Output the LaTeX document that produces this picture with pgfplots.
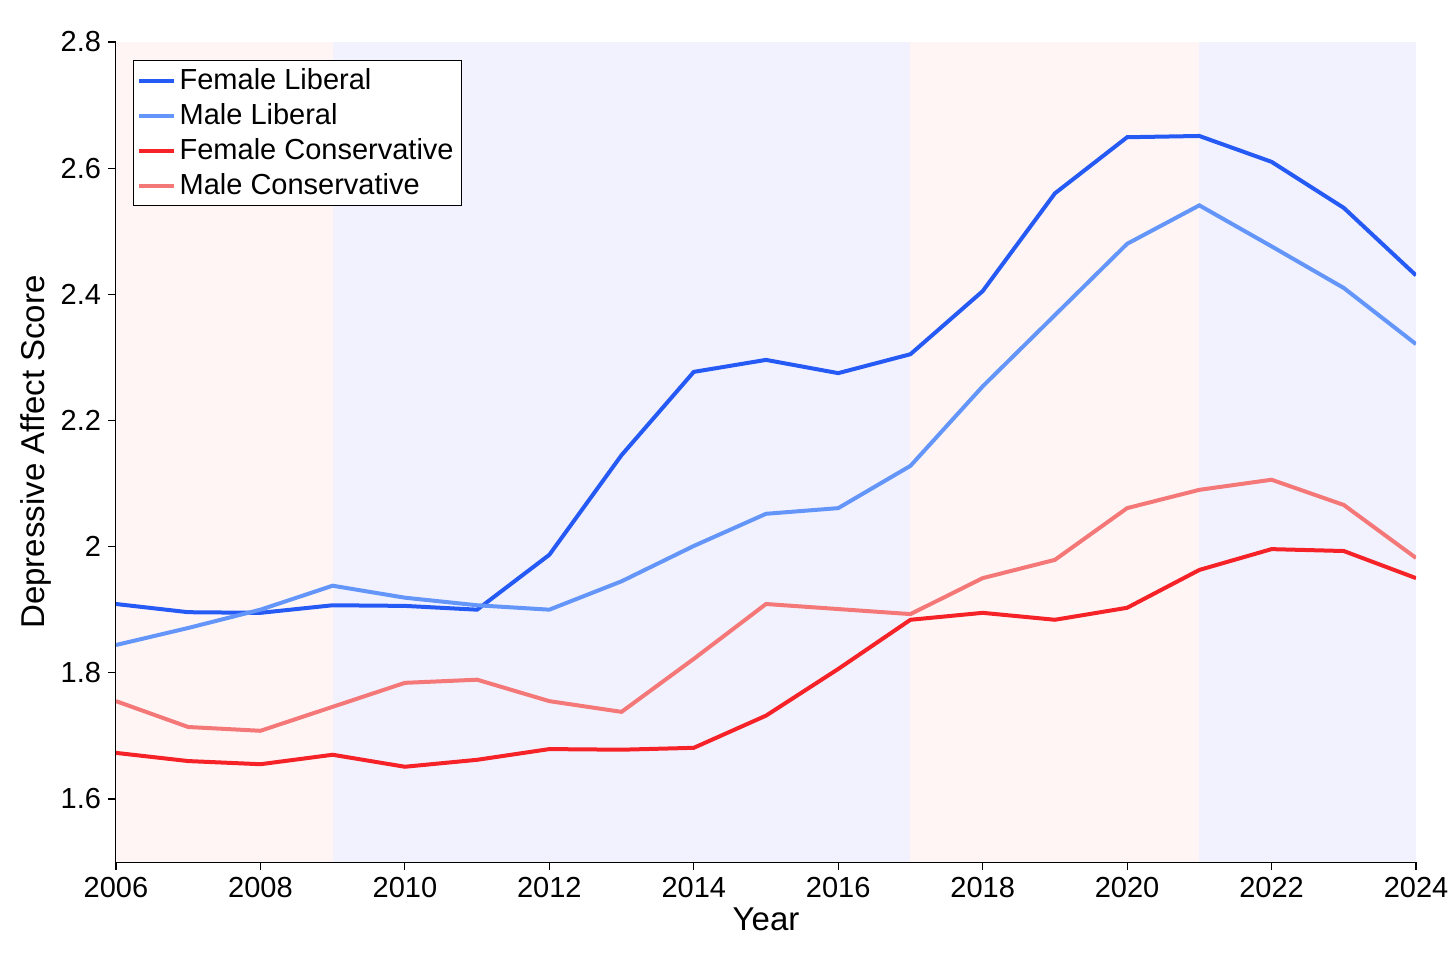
\documentclass[border=0pt]{standalone}
\usepackage{pgfplots}
\pgfplotsset{compat=1.18}
\usepackage{fontspec}
\setmainfont{Liberation Sans}
\definecolor{fl}{RGB}{38,90,245}
\definecolor{ml}{RGB}{100,150,250}
\definecolor{fc}{RGB}{245,35,40}
\definecolor{mc}{RGB}{245,120,120}
\begin{document}
\begin{tikzpicture}
\begin{axis}[
  width=650pt, height=410pt, scale only axis,
  xmin=2006, xmax=2024, ymin=1.5, ymax=2.8,
  axis lines*=left, axis line style={line width=0.6pt},
  xtick={2006,2008,...,2024}, ytick={1.6,1.8,...,2.8},
  tick align=outside, tick style={black, line width=0.6pt},
  major tick length=4pt,
  /pgf/number format/assume math mode=true,
  xticklabel style={/pgf/number format/1000 sep={}},
  yticklabel style={/pgf/number format/fixed},
  ticklabel style={font=\fontsize{14.5}{14.5}\selectfont},
  label style={font=\fontsize{16.5}{16.5}\selectfont},
  xlabel={Year}, ylabel={Depressive Affect Score},
  xlabel style={yshift=2pt}, ylabel style={yshift=-2pt},
  legend style={font=\fontsize{14.5}{14.5}\selectfont, draw=black, line width=0.6pt, inner sep=2pt, row sep=1.5pt, at={(0.013,0.978)}, anchor=north west},
  legend cell align=left,
  every axis plot/.append style={line width=2pt},
]
\fill[red!4] (axis cs:2006,1.5) rectangle (axis cs:2009,2.8);
\fill[blue!5] (axis cs:2009,1.5) rectangle (axis cs:2017,2.8);
\fill[red!4] (axis cs:2017,1.5) rectangle (axis cs:2021,2.8);
\fill[blue!5] (axis cs:2021,1.5) rectangle (axis cs:2024,2.8);
\addplot[fl] coordinates {(2006,1.909)(2007,1.896)(2008,1.895)(2009,1.907)(2010,1.906)(2011,1.900)(2012,1.987)(2013,2.145)(2014,2.277)(2015,2.296)(2016,2.275)(2017,2.305)(2018,2.405)(2019,2.560)(2020,2.649)(2021,2.651)(2022,2.610)(2023,2.537)(2024,2.430)};
\addlegendentry{Female Liberal}
\addplot[ml] coordinates {(2006,1.844)(2007,1.871)(2008,1.900)(2009,1.938)(2010,1.919)(2011,1.907)(2012,1.900)(2013,1.945)(2014,2.001)(2015,2.052)(2016,2.061)(2017,2.128)(2018,2.254)(2019,2.367)(2020,2.480)(2021,2.541)(2022,2.476)(2023,2.410)(2024,2.321)};
\addlegendentry{Male Liberal}
\addplot[fc] coordinates {(2006,1.673)(2007,1.660)(2008,1.655)(2009,1.670)(2010,1.651)(2011,1.662)(2012,1.679)(2013,1.678)(2014,1.681)(2015,1.732)(2016,1.806)(2017,1.884)(2018,1.895)(2019,1.884)(2020,1.903)(2021,1.963)(2022,1.996)(2023,1.993)(2024,1.950)};
\addlegendentry{Female Conservative}
\addplot[mc] coordinates {(2006,1.755)(2007,1.714)(2008,1.708)(2009,1.746)(2010,1.784)(2011,1.789)(2012,1.755)(2013,1.738)(2014,1.822)(2015,1.909)(2016,1.901)(2017,1.893)(2018,1.950)(2019,1.979)(2020,2.061)(2021,2.090)(2022,2.106)(2023,2.066)(2024,1.982)};
\addlegendentry{Male Conservative}
\end{axis}
\path[use as bounding box] ([shift={(-58pt,-55.5pt)}]current axis.south west) rectangle ([shift={(20pt,21pt)}]current axis.north east);
\end{tikzpicture}
\end{document}
